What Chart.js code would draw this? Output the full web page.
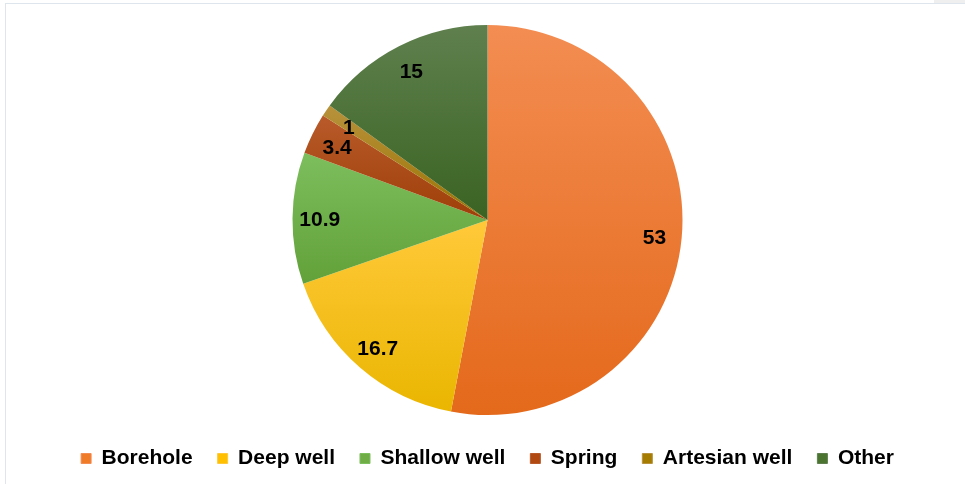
<!DOCTYPE html>
<html>
<head>
<meta charset="utf-8">
<title>Water sources</title>
<script src="https://cdn.jsdelivr.net/npm/chart.js@4.4.0/dist/chart.umd.min.js"></script>
<style>
  html, body { margin: 0; padding: 0; background: #fff; }
  #wrap { position: relative; width: 965px; height: 484px; overflow: hidden; }
  .frame { position: absolute; left: 5px; top: 3px; width: 970px; height: 500px; border: 1px solid #dfe5ec; }
  .corner { position: absolute; right: 0; top: 0; width: 31px; height: 3px; background: #efefef; }
  canvas { position: absolute; left: 0; top: 0; }
</style>
</head>
<body>
<div id="wrap">
  <div class="frame"></div>
  <div class="corner"></div>
  <canvas id="chart" width="965" height="484"></canvas>
</div>
<script>
const categories = ['Borehole', 'Deep well', 'Shallow well', 'Spring', 'Artesian well', 'Other'];
const shares = [53, 16.7, 10.9, 3.4, 1, 15];

// flat colours for the legend, light/dark ends for the slice gradients
const baseColors = ['#EF7A28', '#FFC000', '#70AD47', '#B04A12', '#A67C00', '#4A7430'];
const lightColors = ['#F38D52', '#FFC93A', '#7DBE5D', '#B85A2A', '#B8923C', '#5F804E'];
const darkColors = ['#E4691B', '#EAB600', '#62A139', '#9E3F08', '#9A7300', '#3A6322'];

const PIE_RADIUS = 195;
const total = shares.reduce((a, b) => a + b, 0);

// vertical gradient spanning each slice's own bounding box
function sliceFill(context) {
  const chart = context.chart;
  const area = chart.chartArea;
  const i = context.dataIndex;
  if (!area || i === undefined) return baseColors[i] || '#ccc';
  const cy = (area.top + area.bottom) / 2;
  const r = PIE_RADIUS;
  let before = 0;
  for (let k = 0; k < i; k++) before += shares[k];
  const a0 = -Math.PI / 2 + 2 * Math.PI * before / total;
  const a1 = a0 + 2 * Math.PI * shares[i] / total;
  const ys = [cy, cy + r * Math.sin(a0), cy + r * Math.sin(a1)];
  if (a0 < Math.PI / 2 && a1 > Math.PI / 2) ys.push(cy + r);
  if (a0 < Math.PI * 1.5 && a1 > Math.PI * 1.5) ys.push(cy - r);
  const top = Math.min(...ys), bottom = Math.max(...ys);
  const g = chart.ctx.createLinearGradient(0, top, 0, bottom + 1);
  g.addColorStop(0, lightColors[i]);
  g.addColorStop(1, darkColors[i]);
  return g;
}

// value labels just inside the rim
const sliceLabels = {
  id: 'sliceLabels',
  afterDatasetsDraw(chart) {
    const meta = chart.getDatasetMeta(0);
    const ctx = chart.ctx;
    ctx.save();
    ctx.font = 'bold 21px "Liberation Sans", Arial, sans-serif';
    ctx.fillStyle = '#000';
    ctx.textAlign = 'center';
    ctx.textBaseline = 'middle';
    meta.data.forEach((arc, i) => {
      const mid = (arc.startAngle + arc.endAngle) / 2;
      const d = arc.outerRadius * 0.86;
      // digits have no descenders, so nudge down to look centred
      ctx.fillText(String(shares[i]), arc.x + d * Math.cos(mid), arc.y + d * Math.sin(mid) + 2);
    });
    ctx.restore();
  }
};

const chart = new Chart(document.getElementById('chart'), {
  type: 'pie',
  data: {
    labels: categories,
    datasets: [{
      data: shares,
      backgroundColor: sliceFill,
      borderWidth: 0,
      radius: PIE_RADIUS
    }]
  },
  options: {
    responsive: false,
    animation: false,
    layout: { padding: { top: 17, bottom: 5, left: 10, right: 0 } },
    plugins: {
      tooltip: { enabled: false },
      legend: {
        position: 'bottom',
        labels: {
          boxWidth: 10,
          boxHeight: 10,
          padding: 25,
          color: '#000',
          font: { family: '"Liberation Sans", Arial, sans-serif', size: 21, weight: 'bold' },
          generateLabels(chart) {
            return categories.map((name, i) => ({
              text: name,
              fillStyle: baseColors[i],
              strokeStyle: lightColors[i],
              lineWidth: 1,
              hidden: false,
              index: i
            }));
          }
        }
      }
    }
  },
  plugins: [sliceLabels]
});
</script>
</body>
</html>
